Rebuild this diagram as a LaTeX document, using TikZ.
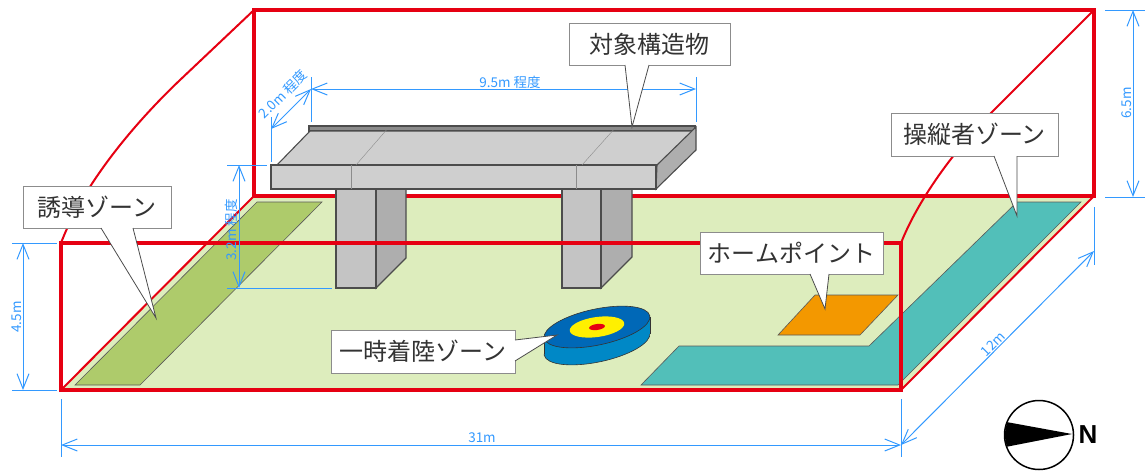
\documentclass[tikz,border=0pt]{standalone}
\usepackage{fontspec}
\setmainfont{Noto Sans CJK JP}
\newfontfamily\latinbold{Liberation Sans}
\usetikzlibrary{arrows.meta}
\definecolor{boxred}{HTML}{E60012}
\definecolor{dimblue}{HTML}{3399FF}
\definecolor{groundgreen}{HTML}{DDEDBD}
\definecolor{stripgreen}{HTML}{AECB6B}
\definecolor{zoneteal}{HTML}{52BFB9}
\definecolor{homeorange}{HTML}{F39800}
\definecolor{deckgrey}{HTML}{CFCFCF}
\definecolor{piergrey}{HTML}{C4C4C4}
\definecolor{sidegrey}{HTML}{AEAEAE}
\definecolor{disctopblue}{HTML}{0068B7}
\definecolor{discsideblue}{HTML}{0088C6}
\definecolor{discyellow}{HTML}{FFF000}
\tikzset{
  zone/.style={draw=black!65, line width=0.6},
  concrete/.style={draw=black!70, line width=1.1},
  redframe/.style={draw=boxred, line width=3.4, line join=miter},
  redside/.style={draw=boxred, line width=2},
  dimline/.style={draw=dimblue, line width=1, {Straight Barb[length=15pt,width=12pt]}-{Straight Barb[length=15pt,width=12pt]}},
  dimtick/.style={draw=dimblue, line width=1},
  dimlabel/.style={text=dimblue, inner sep=0, font=\fontsize{13.5}{14}\selectfont},
  calloutbox/.style={draw=black!45, line width=1, fill=white, inner sep=0, text=black!80, font=\fontsize{24}{25}\selectfont},
  calloutedge/.style={draw=black!70, line width=0.8}
}
\begin{document}
\begin{tikzpicture}[x=1pt,y=-1pt]
    \useasboundingbox (0,0) rectangle (1145,472);

    % ground
    \fill [groundgreen] (61,390) -- (901,390) -- (1094,196) -- (254,196) -- cycle;
    \draw [redframe] (254,10) rectangle (1094,196);
    \draw [zone, fill=stripgreen] (257,202) -- (322,202) -- (140,385) -- (75,385) -- cycle;
    \draw [zone, fill=zoneteal] (1017,202) -- (1081,202) -- (898,385) -- (641,385) -- (679,346) -- (869,346) -- cycle;
    \draw [zone, fill=homeorange] (815,295) -- (898,295) -- (860,335) -- (778,335) -- cycle;

    % piers
    \draw [concrete, fill=sidegrey] (376,180) -- (406,180) -- (406,258) -- (376,288) -- cycle;
    \draw [concrete, fill=piergrey] (336,180) rectangle (376,288);
    \draw [concrete, fill=sidegrey] (601,180) -- (632,180) -- (632,257) -- (601,288) -- cycle;
    \draw [concrete, fill=piergrey] (562,180) rectangle (601,288);

    % deck
    \draw [concrete, fill=sidegrey!80!black] (309,126) rectangle (695,131);
    \draw [concrete, fill=deckgrey] (310,131) -- (695,131) -- (657,165) -- (277,165) -- cycle;
    \draw [concrete, fill=sidegrey] (657,165) -- (696,127) -- (696,150) -- (656,189) -- cycle;
    \draw [concrete, fill=deckgrey] (271,165) rectangle (656,189);
    \draw [draw=black!45] (351,165) -- (351,189);
    \draw [draw=black!45] (356,165) -- (389,127);
    \draw [draw=black!45] (576,165) -- (576,189);
    \draw [draw=black!45] (582,165) -- (616,127);

    % landing disc
    \coordinate (disctop) at (597,327);
    \coordinate (discbase) at (597,344);
    \draw [draw=black!80, line width=0.6, fill=discsideblue] (discbase) ellipse [x radius=54, y radius=18, rotate=12];
    \fill [discsideblue] (544,337) -- (650,317) -- (650,334) -- (544,354) -- cycle;
    \draw [draw=black!80, line width=0.6] (544,337) -- (544,354);
    \draw [draw=black!80, line width=0.6] (650,317) -- (650,334);
    \draw [draw=black!80, line width=0.6, fill=disctopblue] (disctop) ellipse [x radius=54, y radius=18, rotate=12];
    \fill [discyellow] (disctop) ellipse [x radius=27.5, y radius=10, rotate=8];
    \fill [boxred] (disctop) ellipse [x radius=8, y radius=3, rotate=8];

    % red frame
    \draw [redside] (254,10) -- (180,80) .. controls (140,118) and (85,180) .. (61,243);
    \draw [redside] (1094,10) -- (992,112) .. controls (960,144) and (920,195) .. (901,243);
    \draw [redside] (61,390) -- (254,196);
    \draw [redside] (901,390) -- (1094,196);
    \draw [redframe] (61,243) rectangle (901,390);

    % dimensions
    \coordinate (w1) at (271,129);
    \coordinate (w2) at (311,89);
    \coordinate (l2) at (696,89);
    \draw [dimtick] (271,117) -- (271,162);
    \draw [dimtick] (311,77) -- (311,122);
    \draw [dimtick] (696,77) -- (696,122);
    \draw [dimline] (w1) -- (w2);
    \draw [dimline] (w2) -- (l2);
    \node [dimlabel, rotate=45] (wlabel) at (283,94) {2.0m 程度};
    \node [dimlabel] (llabel) at (510,82) {9.5m 程度};

    \coordinate (c1) at (239,165);
    \coordinate (c2) at (239,288);
    \draw [dimtick] (227,165) -- (267,165);
    \draw [dimtick] (227,288) -- (332,288);
    \draw [dimline] (c1) -- (c2);
    \node [dimlabel, rotate=90] (clabel) at (231.5,230) {3.2m 程度};

    \coordinate (f1) at (23,243);
    \coordinate (f2) at (23,390);
    \draw [dimtick] (12,243) -- (57,243);
    \draw [dimtick] (12,390) -- (57,390);
    \draw [dimline] (f1) -- (f2);
    \node [dimlabel, rotate=90] (flabel) at (16.5,317) {4.5m};

    \coordinate (b1) at (1133,10);
    \coordinate (b2) at (1133,197);
    \draw [dimtick] (1105,10) -- (1145,10);
    \draw [dimtick] (1105,197) -- (1145,197);
    \draw [dimline] (b1) -- (b2);
    \node [dimlabel, rotate=90] (blabel) at (1126.5,103) {6.5m};

    \coordinate (s1) at (61,445);
    \coordinate (s2) at (901,445);
    \coordinate (s3) at (1094,251);
    \draw [dimtick] (61,399) -- (61,457);
    \draw [dimtick] (901,399) -- (901,457);
    \draw [dimtick] (1094,207) -- (1094,265);
    \draw [dimline] (s1) -- (s2);
    \draw [dimline] (s2) -- (s3);
    \node [dimlabel] (slabel) at (482,438) {31m};
    \node [dimlabel, rotate=45] (dlabel) at (993,344) {12m};

    % callouts
    \node [calloutbox, minimum width=148, minimum height=42] (guide) at (97,207) {誘導ゾーン};
    \coordinate (guide1) at (101,228);
    \coordinate (guide2) at (133,228);
    \coordinate (guidetip) at (156,318);
    \fill [white] (guide1) -- (guidetip) -- (guide2) -- cycle;
    \draw [calloutedge] (guide1) -- (guidetip) -- (guide2);

    \node [calloutbox, minimum width=161, minimum height=42] (target) at (649.5,44) {対象構造物};
    \coordinate (target1) at (625,65);
    \coordinate (target2) at (649,65);
    \coordinate (targettip) at (632,127);
    \fill [white] (target1) -- (targettip) -- (target2) -- cycle;
    \draw [calloutedge] (target1) -- (targettip) -- (target2);

    \node [calloutbox, minimum width=167, minimum height=43] (pilot) at (974.5,134.5) {操縦者ゾーン};
    \coordinate (pilot1) at (994,156);
    \coordinate (pilot2) at (1017,156);
    \coordinate (pilottip) at (1017,216);
    \fill [white] (pilot1) -- (pilottip) -- (pilot2) -- cycle;
    \draw [calloutedge] (pilot1) -- (pilottip) -- (pilot2);

    \node [calloutbox, minimum width=183, minimum height=42] (home) at (791.5,253) {ホームポイント};
    \coordinate (home1) at (810,274);
    \coordinate (home2) at (829,274);
    \coordinate (hometip) at (825,309);
    \fill [white] (home1) -- (hometip) -- (home2) -- cycle;
    \draw [calloutedge] (home1) -- (hometip) -- (home2);

    \node [calloutbox, minimum width=184, minimum height=43] (landing) at (423,351.5) {一時着陸ゾーン};
    \coordinate (landing1) at (515,340);
    \coordinate (landing2) at (515,361);
    \coordinate (landingtip) at (557,335);
    \fill [white] (landing1) -- (landingtip) -- (landing2) -- cycle;
    \draw [calloutedge] (landing1) -- (landingtip) -- (landing2);

    % north mark
    \coordinate (compass) at (1039,435);
    \begin{scope}
      \clip (compass) circle [radius=34];
      \fill [black] (1072,434) -- (990,419) -- (990,450) -- cycle;
    \end{scope}
    \draw [black, line width=1.5] (compass) circle [radius=34.5];
    \node [inner sep=0, font=\latinbold\bfseries\fontsize{26}{26}\selectfont] (north) at (1088,435) {N};
\end{tikzpicture}
\end{document}
